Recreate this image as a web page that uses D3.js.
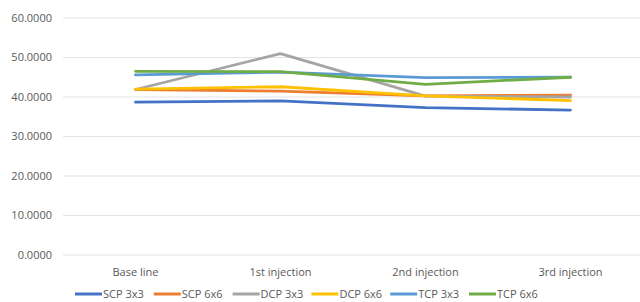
<!DOCTYPE html>
<html>
<head>
<meta charset="utf-8">
<script src="https://cdn.jsdelivr.net/npm/d3@7"></script>
<style>
  body { margin: 0; background: #fff; }
  svg { display: block; font-family: "Open Sans", "Liberation Sans", sans-serif; }
</style>
</head>
<body>
<svg id="chart" width="640" height="302"></svg>
<script>
// chart data
const categories = ['Base line', '1st injection', '2nd injection', '3rd injection'];
const seriesNames = ['SCP 3x3', 'SCP 6x6', 'DCP 3x3', 'DCP 6x6', 'TCP 3x3', 'TCP 6x6'];
const scp3 = [38.7, 39.0, 37.3, 36.7];
const scp6 = [41.9, 41.5, 40.3, 40.5];
const dcp3 = [41.9, 51.0, 40.2, 40.0];
const dcp6 = [42.0, 42.6, 40.3, 39.1];
const tcp3 = [45.6, 46.3, 44.9, 45.0];
const tcp6 = [46.5, 46.4, 43.2, 45.0];
const yTicks = [0, 10, 20, 30, 40, 50, 60];
const colors = ['#4472C4', '#ED7D31', '#A5A5A5', '#FFC000', '#5B9BD5', '#70AD47'];

const allSeries = [scp3, scp6, dcp3, dcp6, tcp3, tcp6];

const svg = d3.select('#chart');
const margin = {left: 63, right: -3, top: 18, bottom: 47};
const W = 640, H = 302;

const x = d3.scalePoint()
    .domain(categories)
    .range([margin.left, W - margin.right])
    .padding(0.5);

const y = d3.scaleLinear()
    .domain([0, 60])
    .range([H - margin.bottom, margin.top]);

// gridlines
svg.append('g')
    .selectAll('line')
    .data(yTicks)
    .enter()
    .append('line')
    .attr('x1', margin.left)
    .attr('x2', W)
    .attr('y1', d => y(d))
    .attr('y2', d => y(d))
    .attr('stroke', '#e3e3e3')
    .attr('stroke-width', 1);

// y labels
svg.append('g')
    .selectAll('text')
    .data(yTicks)
    .enter()
    .append('text')
    .attr('x', 52)
    .attr('y', d => y(d))
    .attr('dy', '0.35em')
    .attr('text-anchor', 'end')
    .attr('font-size', 11)
    .attr('fill', '#595959')
    .text(d => d.toFixed(4));

// x labels
svg.append('g')
    .selectAll('text')
    .data(categories)
    .enter()
    .append('text')
    .attr('x', d => x(d))
    .attr('y', y(0) + 17)
    .attr('dy', '0.35em')
    .attr('text-anchor', 'middle')
    .attr('font-size', 11)
    .attr('fill', '#595959')
    .text(d => d);

// lines
let line = d3.line()
    .x((d, i) => x(categories[i]))
    .y(d => y(d));

svg.append('g')
    .selectAll('path')
    .data(allSeries)
    .enter()
    .append('path')
    .attr('d', d => line(d))
    .attr('fill', 'none')
    .attr('stroke', (d, i) => colors[i])
    .attr('stroke-width', 2.8)
    .attr('stroke-linejoin', 'round')
    .attr('stroke-linecap', 'round');

// legend (kept just inside the bottom edge so the text stays whole)
let legend = svg.append('g')
    .selectAll('g')
    .data(seriesNames)
    .enter()
    .append('g')
    .attr('transform', (d, i) => `translate(${75 + i * 78.8}, 294)`);

legend.append('line')
    .attr('x1', 0)
    .attr('x2', 27)
    .attr('y1', 0)
    .attr('y2', 0)
    .attr('stroke', (d, i) => colors[i])
    .attr('stroke-width', 3);

legend.append('text')
    .attr('x', 28)
    .attr('y', 0)
    .attr('dy', '0.35em')
    .attr('font-size', 11)
    .attr('fill', '#595959')
    .text(d => d);
</script>
</body>
</html>
